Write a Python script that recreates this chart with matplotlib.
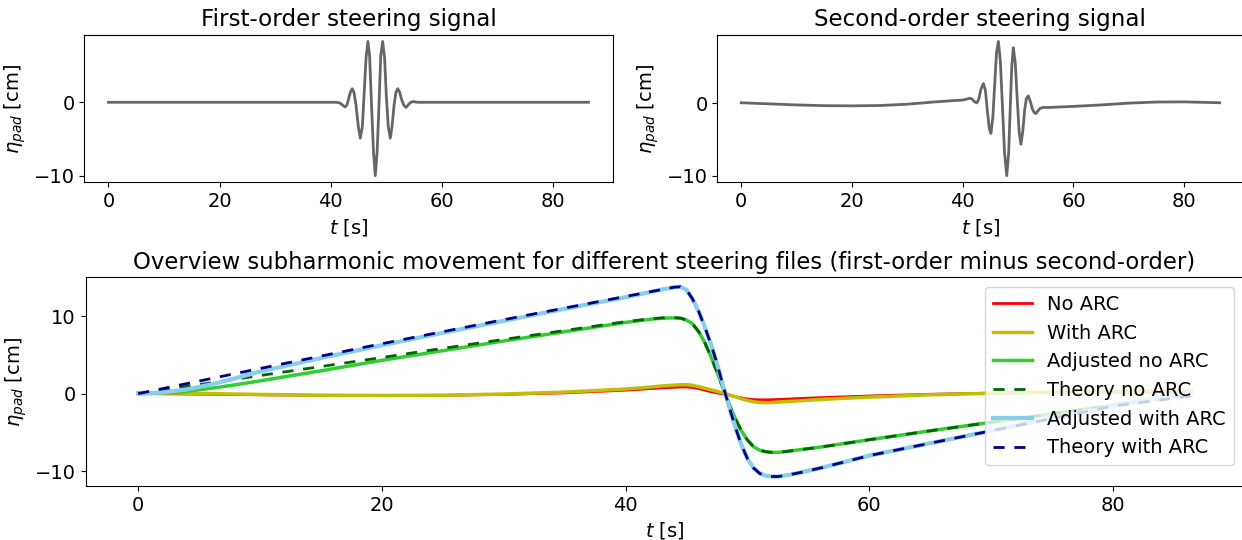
import matplotlib
matplotlib.use("Agg")
import matplotlib.pyplot as plt

# first-order steering signal (top left)
t_first = [0, 40.0, 41.0, 41.7, 42.15, 42.57, 42.9, 43.2, 43.55, 43.88, 44.2, 44.55, 44.95, 45.32,
           45.7, 46.0, 46.35, 46.7, 47.0, 47.35, 47.7, 48.02, 48.35, 48.68, 49.0, 49.35, 49.7,
           50.0, 50.35, 50.72, 51.05, 51.4, 51.72, 52.05, 52.4, 52.75, 53.15, 53.55, 53.9,
           54.3, 54.86, 55.6, 86.4]
eta_first = [0, 0.0, 0.0, -0.1, -0.4, -0.65, -0.4, 0.4, 1.4, 1.85, 1.3, -0.4, -3.2, -4.9,
             -3.3, 1.0, 6.0, 8.3, 6.3, -0.5, -6.8, -10.0, -6.8, -0.5, 6.3, 8.3, 6.0,
             1.0, -3.3, -4.9, -3.2, -0.4, 1.3, 1.85, 1.4, 0.4, -0.4, -0.7, -0.4,
             -0.05, 0.1, 0.0, 0.0]

# second-order steering signal (top right)
t_second = [0, 5, 10, 15, 20, 25, 30, 35, 38, 40, 40.7, 41.3, 41.7, 42.1, 42.55, 42.9, 43.3,
            43.74, 44.1, 44.45, 44.8, 45.1, 45.45, 45.8, 46.1, 46.44, 46.8, 47.2, 47.55,
            47.95, 48.3, 48.6, 48.85, 49.14, 49.5, 49.85, 50.2, 50.52, 50.85, 51.2, 51.5,
            51.84, 52.2, 52.55, 52.9, 53.22, 53.6, 54.0, 54.6, 55.5, 60, 65, 70, 75, 80, 86.4]
eta_second = [0.1, -0.05, -0.2, -0.3, -0.33, -0.28, -0.1, 0.22, 0.38, 0.48, 0.6, 0.73, 0.6,
              0.25, 0.08, 0.6, 2.0, 2.75, 1.8, -1.0, -3.5, -4.13, -1.8, 3.0, 7.0, 8.57, 5.8,
              -0.8, -6.8, -9.96, -6.8, -0.2, 5.0, 7.7, 5.5, 0.5, -4.0, -5.64, -3.8, -0.8, 0.7,
              1.05, 0.3, -0.7, -1.25, -1.38, -1.0, -0.65, -0.55, -0.55, -0.4, -0.2, 0.05, 0.2,
              0.22, 0.1]

# subharmonic movement (bottom)
t_sub = [0, 2, 4, 6, 8, 10, 15, 20, 25, 30, 35, 40, 42, 43, 44, 44.5, 45, 45.5, 46, 46.5, 47,
         47.5, 48, 48.5, 49, 49.5, 50, 50.5, 51, 51.5, 52, 52.5, 53, 54, 56, 60, 65, 70, 75,
         80, 86.4]
no_arc = [0, -0.02, -0.05, -0.08, -0.12, -0.15, -0.22, -0.25, -0.22, -0.1, 0.1, 0.45, 0.65,
          0.75, 0.82, 0.85, 0.85, 0.8, 0.65, 0.45, 0.25, 0.1, -0.05, -0.2, -0.38, -0.55, -0.68,
          -0.77, -0.8, -0.8, -0.78, -0.75, -0.72, -0.65, -0.52, -0.3, -0.08, 0.07, 0.15, 0.2, 0.2]
with_arc = [0.15, 0.1, 0.05, 0.0, -0.05, -0.1, -0.2, -0.23, -0.2, -0.05, 0.2, 0.6, 0.85, 1.0,
            1.1, 1.15, 1.15, 1.08, 0.9, 0.7, 0.5, 0.3, 0.08, -0.15, -0.4, -0.65, -0.88, -1.05,
            -1.14, -1.17, -1.15, -1.1, -1.05, -0.95, -0.75, -0.45, -0.15, 0.05, 0.18, 0.25, 0.3]
adj_no_arc = [0, 0.08, 0.3, 0.7, 1.15, 1.65, 2.95, 4.3, 5.55, 6.8, 8.0, 9.2, 9.6, 9.75, 9.78,
              9.75, 9.5, 9.0, 8.0, 6.6, 4.8, 2.8, 0.7, -1.4, -3.2, -4.8, -6.0, -6.85, -7.3,
              -7.5, -7.58, -7.58, -7.5, -7.3, -6.9, -5.95, -4.8, -3.7, -2.6, -1.5, 0.1]
theory_no_arc = [0, 0.47, 0.94, 1.4, 1.87, 2.34, 3.5, 4.67, 5.85, 7.0, 8.15, 9.3, 9.65, 9.78,
                 9.8, 9.75, 9.5, 9.0, 8.0, 6.6, 4.8, 2.8, 0.7, -1.4, -3.2, -4.8, -6.0, -6.85,
                 -7.3, -7.5, -7.58, -7.58, -7.5, -7.3, -6.9, -5.95, -4.8, -3.7, -2.6, -1.5, -0.1]
adj_arc = [0, 0.15, 0.55, 1.2, 2.0, 2.85, 4.6, 6.25, 7.85, 9.4, 10.95, 12.45, 13.1, 13.45, 13.75,
           13.8, 13.4, 12.2, 10.6, 8.6, 6.4, 3.9, 1.0, -1.7, -4.3, -6.6, -8.4, -9.6, -10.3,
           -10.6, -10.7, -10.7, -10.6, -10.3, -9.6, -8.0, -6.4, -4.8, -3.2, -1.6, 0.2]
theory_arc = [0, 0.65, 1.3, 1.95, 2.6, 3.25, 4.85, 6.45, 8.0, 9.55, 11.05, 12.55, 13.15, 13.45,
              13.75, 13.8, 13.4, 12.2, 10.6, 8.6, 6.4, 3.9, 1.0, -1.7, -4.3, -6.6, -8.4, -9.6,
              -10.3, -10.6, -10.7, -10.7, -10.6, -10.3, -9.6, -8.0, -6.4, -4.8, -3.2, -1.6, -0.3]

plt.rcParams['font.size'] = 14

fig = plt.figure(figsize=(12.42, 5.4), dpi=100)

def signalPlot(ax, t, eta, title):
    ax.plot(t, eta, color='#666666', lw=2)
    ax.set_title(title, fontsize=16.6)
    ax.set_xlabel(r'$t$ [s]')
    ax.set_ylabel(r'$\eta_{pad}$ [cm]')

ax1 = fig.add_axes([0.068, 0.6624, 0.4252, 0.2733])
signalPlot(ax1, t_first, eta_first, 'First-order steering signal')
ax2 = fig.add_axes([0.5775, 0.6624, 0.4238, 0.2733])
signalPlot(ax2, t_second, eta_second, 'Second-order steering signal')

ax3 = fig.add_axes([0.0689, 0.1, 0.9324, 0.3865])
ax3.plot(t_sub, no_arc, color='red', lw=2, label='No ARC')
ax3.plot(t_sub, with_arc, color='y', lw=2.5, label='With ARC')
ax3.plot(t_sub, adj_no_arc, color='limegreen', lw=2.5, label='Adjusted no ARC')
ax3.plot(t_sub, theory_no_arc, '--', color='darkgreen', lw=2, dashes=(4, 3.5), label='Theory no ARC')
ax3.plot(t_sub, adj_arc, color='skyblue', lw=3, label='Adjusted with ARC')
ax3.plot(t_sub, theory_arc, '--', color='darkblue', lw=2, dashes=(4, 3.5), label='Theory with ARC')
ax3.set_title('Overview subharmonic movement for different steering files (first-order minus second-order)',
              fontsize=16.4)
ax3.set_xlabel(r'$t$ [s]')
ax3.set_ylabel(r'$\eta_{pad}$ [cm]')
ax3.legend(loc='upper right')

fig.savefig('out.png', dpi=100)
